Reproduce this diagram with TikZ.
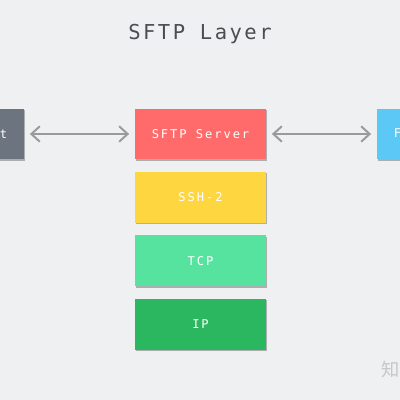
\documentclass[tikz,border=0pt]{standalone}
\usepackage{fontspec}
\setmonofont[LetterSpace=16]{DejaVu Sans Mono}
\newfontfamily\titlefont[LetterSpace=12]{DejaVu Sans Mono}
\newfontfamily\cjk{Noto Sans CJK SC}
\usetikzlibrary{positioning,shadows,arrows.meta}

\definecolor{bgcol}{HTML}{EFF0F2}
\definecolor{sftpred}{HTML}{FF6B6B}
\definecolor{sshyellow}{HTML}{FDD640}
\definecolor{tcpgreen}{HTML}{56E39F}
\definecolor{ipgreen}{HTML}{2BB75F}
\definecolor{clientgray}{HTML}{6B747F}
\definecolor{fsblue}{HTML}{5BC8F5}
\definecolor{arrowgray}{HTML}{9A9A9A}
\definecolor{titlegray}{HTML}{4A4D52}

\tikzset{
  layer/.style={minimum width=3.275cm, minimum height=1.27cm, inner sep=0pt,
    text=white, font=\ttfamily\fontsize{8.6}{10}\selectfont,
    drop shadow={shadow xshift=0.5pt, shadow yshift=-1pt, opacity=0.4, fill=black!70}},
  link/.style={draw=arrowgray, line width=1.4pt,
    {Straight Barb[length=6pt, width=11pt]}-{Straight Barb[length=6pt, width=11pt]},
    shorten <=4pt, shorten >=4pt}
}

\begin{document}
\begin{tikzpicture}[x=0.025cm, y=-0.025cm]
  % background
  \fill[bgcol] (0,0) rectangle (400,400);
  \useasboundingbox (0,0) rectangle (400,400);
  \begin{scope}
  \clip (0,0) rectangle (400,400);

  \node[text=titlegray, font=\titlefont\fontsize{14.6}{16}\selectfont] (title) at (200,34) {SFTP Layer};

  % protocol stack
  \node[layer, fill=sftpred] (sftp) at (200.5,134) {SFTP Server};
  \node[layer, fill=sshyellow, below=0.3cm of sftp] (ssh) {SSH-2};
  \node[layer, fill=tcpgreen, below=0.3cm of ssh] (tcp) {TCP};
  \node[layer, fill=ipgreen, below=0.3cm of tcp] (ip) {IP};

  % both ends
  \node[layer, fill=clientgray] (client) at (-41.5,134) {SFTP Client};
  \node[layer, fill=fsblue] (fs) at (442.5,134) {File System};

  \draw[link] (client) -- (sftp);
  \draw[link] (sftp) -- (fs);

  \node[text=black!22, font=\cjk\fontsize{13}{15}\selectfont, anchor=west] (mark) at (377,370) {知乎};
  \end{scope}
\end{tikzpicture}
\end{document}
